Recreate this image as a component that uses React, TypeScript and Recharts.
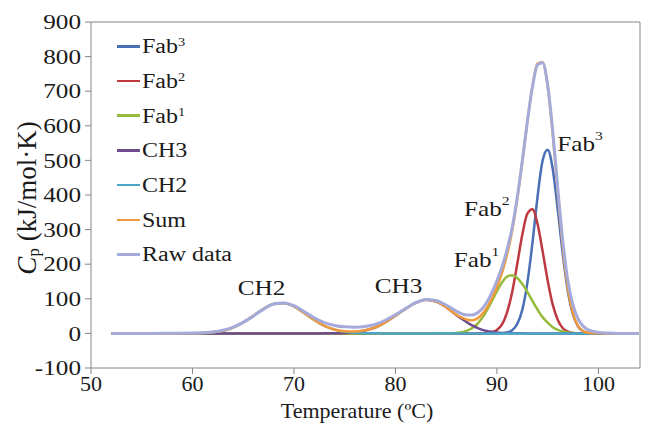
import { LineChart, Line, XAxis, YAxis, ReferenceLine, ReferenceDot, Legend } from 'recharts'

// ── Data ───────────────────────────────────────────────────────────────────

const temps = [
  52, 54, 56, 58,
  60, 61, 62, 63, 64, 65, 66, 67, 68, 69,
  70, 71, 72, 73, 74, 75, 76, 77, 78, 79,
  80, 81, 82, 83, 84, 85, 86,
  86.5, 87, 87.5, 88, 88.5, 89, 89.5, 90, 90.5, 91, 91.5,
  92, 92.5, 93, 93.5, 94, 94.5, 95, 95.5, 96, 96.5, 97,
  97.5, 98, 98.5, 99,
  100, 101, 102, 104,
]

const fab3 = [
  0, 0, 0, 0,
  0, 0, 0, 0, 0, 0, 0, 0, 0, 0,
  0, 0, 0, 0, 0, 0, 0, 0, 0, 0,
  0, 0, 0, 0, 0, 0, 0,
  0, 0, 0, 0, 0, 0, 0, 0, 0.6, 2.5, 9,
  27, 68, 146, 261, 394, 499, 531, 475, 357, 226, 120,
  54, 20, 6.4, 1.7,
  0.1, 0, 0, 0,
]

const fab2 = [
  0, 0, 0, 0,
  0, 0, 0, 0, 0, 0, 0, 0, 0, 0,
  0, 0, 0, 0, 0, 0, 0, 0, 0, 0,
  0, 0, 0, 0, 0, 0, 0,
  0, 0, 0, 0, 0.2, 0.8, 3.1, 9.7, 26, 61, 119,
  200, 285, 346, 359, 317, 238, 153, 83, 39, 15, 5.2,
  1.5, 0.4, 0.1, 0,
  0, 0, 0, 0,
]

const fab1 = [
  0, 0, 0, 0,
  0, 0, 0, 0, 0, 0, 0, 0, 0, 0,
  0, 0, 0, 0, 0, 0, 0, 0, 0, 0,
  0, 0, 0, 0, 0.1, 0.2, 1.4,
  3.3, 7.1, 14, 25, 43, 66, 93, 122, 147, 164, 168,
  160, 143, 120, 94, 69, 47, 31, 18, 10, 5.5, 2.7,
  1.3, 0.5, 0.2, 0,
  0, 0, 0, 0,
]

const ch3 = [
  0, 0, 0, 0,
  0, 0, 0, 0, 0, 0, 0, 0, 0, 0,
  0, 0, 0, 0.1, 0.4, 1.3, 3.6, 8.4, 17, 32,
  51, 71, 88, 97, 92, 76, 53,
  43, 33, 24, 17, 11, 7, 4.5, 2.7, 1.5, 0.8, 0.4,
  0.2, 0.1, 0, 0, 0, 0, 0, 0, 0, 0, 0,
  0, 0, 0, 0,
  0, 0, 0, 0,
]

const ch2 = [
  0, 0, 0, 0,
  0.3, 1.1, 3.2, 7.9, 17, 32, 51, 71, 85, 87,
  78, 59, 39, 22, 11, 4.6, 1.7, 0.5, 0.1, 0,
  0, 0, 0, 0, 0, 0, 0,
  0, 0, 0, 0, 0, 0, 0, 0, 0, 0, 0,
  0, 0, 0, 0, 0, 0, 0, 0, 0, 0, 0,
  0, 0, 0, 0,
  0, 0, 0, 0,
]

const sum = [
  0, 0, 0, 0,
  0.3, 1.1, 3.2, 7.9, 17, 32, 51, 71, 85, 87,
  78, 59, 39, 22, 11.4, 5.9, 5.3, 8.9, 17, 32,
  51, 71, 88, 97, 92, 76, 54,
  46, 40, 38, 42, 54, 74, 101, 134, 175, 228, 296,
  387, 496, 612, 714, 780, 784, 715, 576, 406, 246, 128,
  57, 21, 6.7, 1.7,
  0.1, 0, 0, 0,
]

const raw = [
  0, 0, 0, 0.5,
  1, 2, 4, 9, 18, 32, 50, 70, 85, 88,
  80, 63, 45, 31, 23, 19, 18, 20, 26, 38,
  54, 72, 89, 98, 95, 82, 64,
  57, 53, 53, 58, 70, 90, 118, 152, 192, 242, 305,
  392, 498, 612, 712, 776, 782, 718, 585, 418, 265, 150,
  82, 42, 21, 10,
  3, 1, 0, 0,
]

const xTicks = [50, 60, 70, 80, 90, 100]
const yTicks = [-100, 0, 100, 200, 300, 400, 500, 600, 700, 800, 900]

const series = [
  { key: 'fab3', name: 'Fab', sup: '3', color: '#4A6FB5', values: fab3 },
  { key: 'fab2', name: 'Fab', sup: '2', color: '#BE3A40', values: fab2 },
  { key: 'fab1', name: 'Fab', sup: '1', color: '#96BA3C', values: fab1 },
  { key: 'ch3',  name: 'CH3', sup: '',  color: '#6E4C8E', values: ch3 },
  { key: 'ch2',  name: 'CH2', sup: '',  color: '#4BA6C8', values: ch2 },
  { key: 'sum',  name: 'Sum', sup: '',  color: '#F29A3A', values: sum },
  { key: 'raw',  name: 'Raw data', sup: '', color: '#A4ABDA', values: raw },
]

const peakLabels = [
  { key: 'l-ch2',  t: 66.8, v: 133, text: 'CH2', sup: '' },
  { key: 'l-ch3',  t: 80.3, v: 138, text: 'CH3', sup: '' },
  { key: 'l-fab1', t: 88.0, v: 214, text: 'Fab', sup: '1' },
  { key: 'l-fab2', t: 89.0, v: 361, text: 'Fab', sup: '2' },
  { key: 'l-fab3', t: 98.2, v: 549, text: 'Fab', sup: '3' },
]

const data = temps.map((t, i) => {
  const row: Record<string, number> = { t }
  series.forEach(s => { row[s.key] = s.values[i] })
  return row
})

// ── Styling bits ────────────────────────────────────────────────────────────

const SERIF = '"Liberation Serif", "Times New Roman", serif'
const AXIS = '#868686'
const INK = '#1a1a1a'
const WIDE = 1.2   // the source figure's lettering is a bit stretched sideways

// eslint-disable-next-line @typescript-eslint/no-explicit-any
const YTick = ({ x, y, payload }: any) => (
  <text transform={`translate(${x},${y}) scale(${WIDE},1)`} textAnchor="end"
    dominantBaseline="central" fontFamily={SERIF} fontSize={21} fill={INK}>
    {payload.value}
  </text>
)

// eslint-disable-next-line @typescript-eslint/no-explicit-any
const XTick = ({ x, y, payload }: any) => (
  <text x={x} y={y + 7} textAnchor="middle" dominantBaseline="central"
    fontFamily={SERIF} fontSize={22} fill={INK}>
    {payload.value}
  </text>
)

const XTitle = () => (
  <text x={357} y={410} textAnchor="middle" dominantBaseline="central"
    fontFamily={SERIF} fontSize={22} fill={INK}>
    Temperature (ºC)
  </text>
)

const YTitle = () => (
  <text x={27} y={198} transform="rotate(-90 27 198)" textAnchor="middle"
    dominantBaseline="central" fontFamily={SERIF} fontSize={27} fill={INK}>
    <tspan fontStyle="italic">C</tspan>
    <tspan dy={6} fontSize={17}>p</tspan>
    <tspan dy={-6}> (kJ/mol·K)</tspan>
  </text>
)

// eslint-disable-next-line @typescript-eslint/no-explicit-any
const peakText = (text: string, sup: string) => (props: any) => {
  const vb = props.viewBox || {}
  const cx = (vb.x ?? 0) + (vb.width ?? 0) / 2
  const cy = (vb.y ?? 0) + (vb.height ?? 0) / 2
  return (
    <text transform={`translate(${cx},${cy}) scale(${WIDE},1)`} textAnchor="middle"
      dominantBaseline="central" fontFamily={SERIF} fontSize={21} fill={INK}>
      {text}
      {sup && <tspan dy={-8} fontSize={13}>{sup}</tspan>}
    </text>
  )
}

const LegendBox = () => (
  <div style={{ fontFamily: SERIF, fontSize: 20, color: INK }}>
    {series.map(s => (
      <div key={s.key} style={{ display: 'flex', alignItems: 'center', height: 34.7 }}>
        <span style={{ display: 'inline-block', width: 23, height: 2.5, background: s.color, marginRight: 2 }} />
        <span style={{ lineHeight: 1, display: 'inline-block', transform: `scaleX(${WIDE})`, transformOrigin: 'left center', whiteSpace: 'nowrap' }}>
          {s.name}
          {s.sup && <span style={{ fontSize: 12, verticalAlign: 7 }}>{s.sup}</span>}
        </span>
      </div>
    ))}
  </div>
)

// ── Component ───────────────────────────────────────────────────────────────

export default function App() {
  return (
    <div style={{ position: 'absolute', left: 0, top: 0, width: 646, height: 429, background: '#fff' }}>
      <LineChart width={646} height={429} data={data}
        margin={{ top: 22, right: 6, bottom: 0, left: 0 }}>
        <XAxis
          dataKey="t" type="number" domain={[50, 104.1]} ticks={xTicks}
          allowDataOverflow
          stroke={AXIS} tickSize={6} tickMargin={2} height={61}
          tick={<XTick />} label={<XTitle />}
        />
        <YAxis
          type="number" domain={[-100, 900]} ticks={yTicks}
          stroke={AXIS} tickSize={6} tickMargin={4} width={91}
          tick={<YTick />} label={<YTitle />}
        />
        <ReferenceLine y={900} stroke={AXIS} strokeWidth={1} />
        <ReferenceLine x={104.1} stroke={AXIS} strokeWidth={1} />
        <Legend
          content={<LegendBox />}
          layout="vertical" verticalAlign="middle" align="center"
          wrapperStyle={{ left: 117, top: 29, width: 150, height: 245 }}
        />
        {series.map(s => (
          <Line
            key={s.key} type="monotone" dataKey={s.key} name={s.name}
            stroke={s.color} strokeWidth={s.key === 'raw' ? 3 : 2.5}
            dot={false} activeDot={false} isAnimationActive={false}
          />
        ))}
        {peakLabels.map(p => (
          <ReferenceDot key={p.key} x={p.t} y={p.v} r={0}
            fill="none" stroke="none" label={peakText(p.text, p.sup)} />
        ))}
      </LineChart>
    </div>
  )
}
